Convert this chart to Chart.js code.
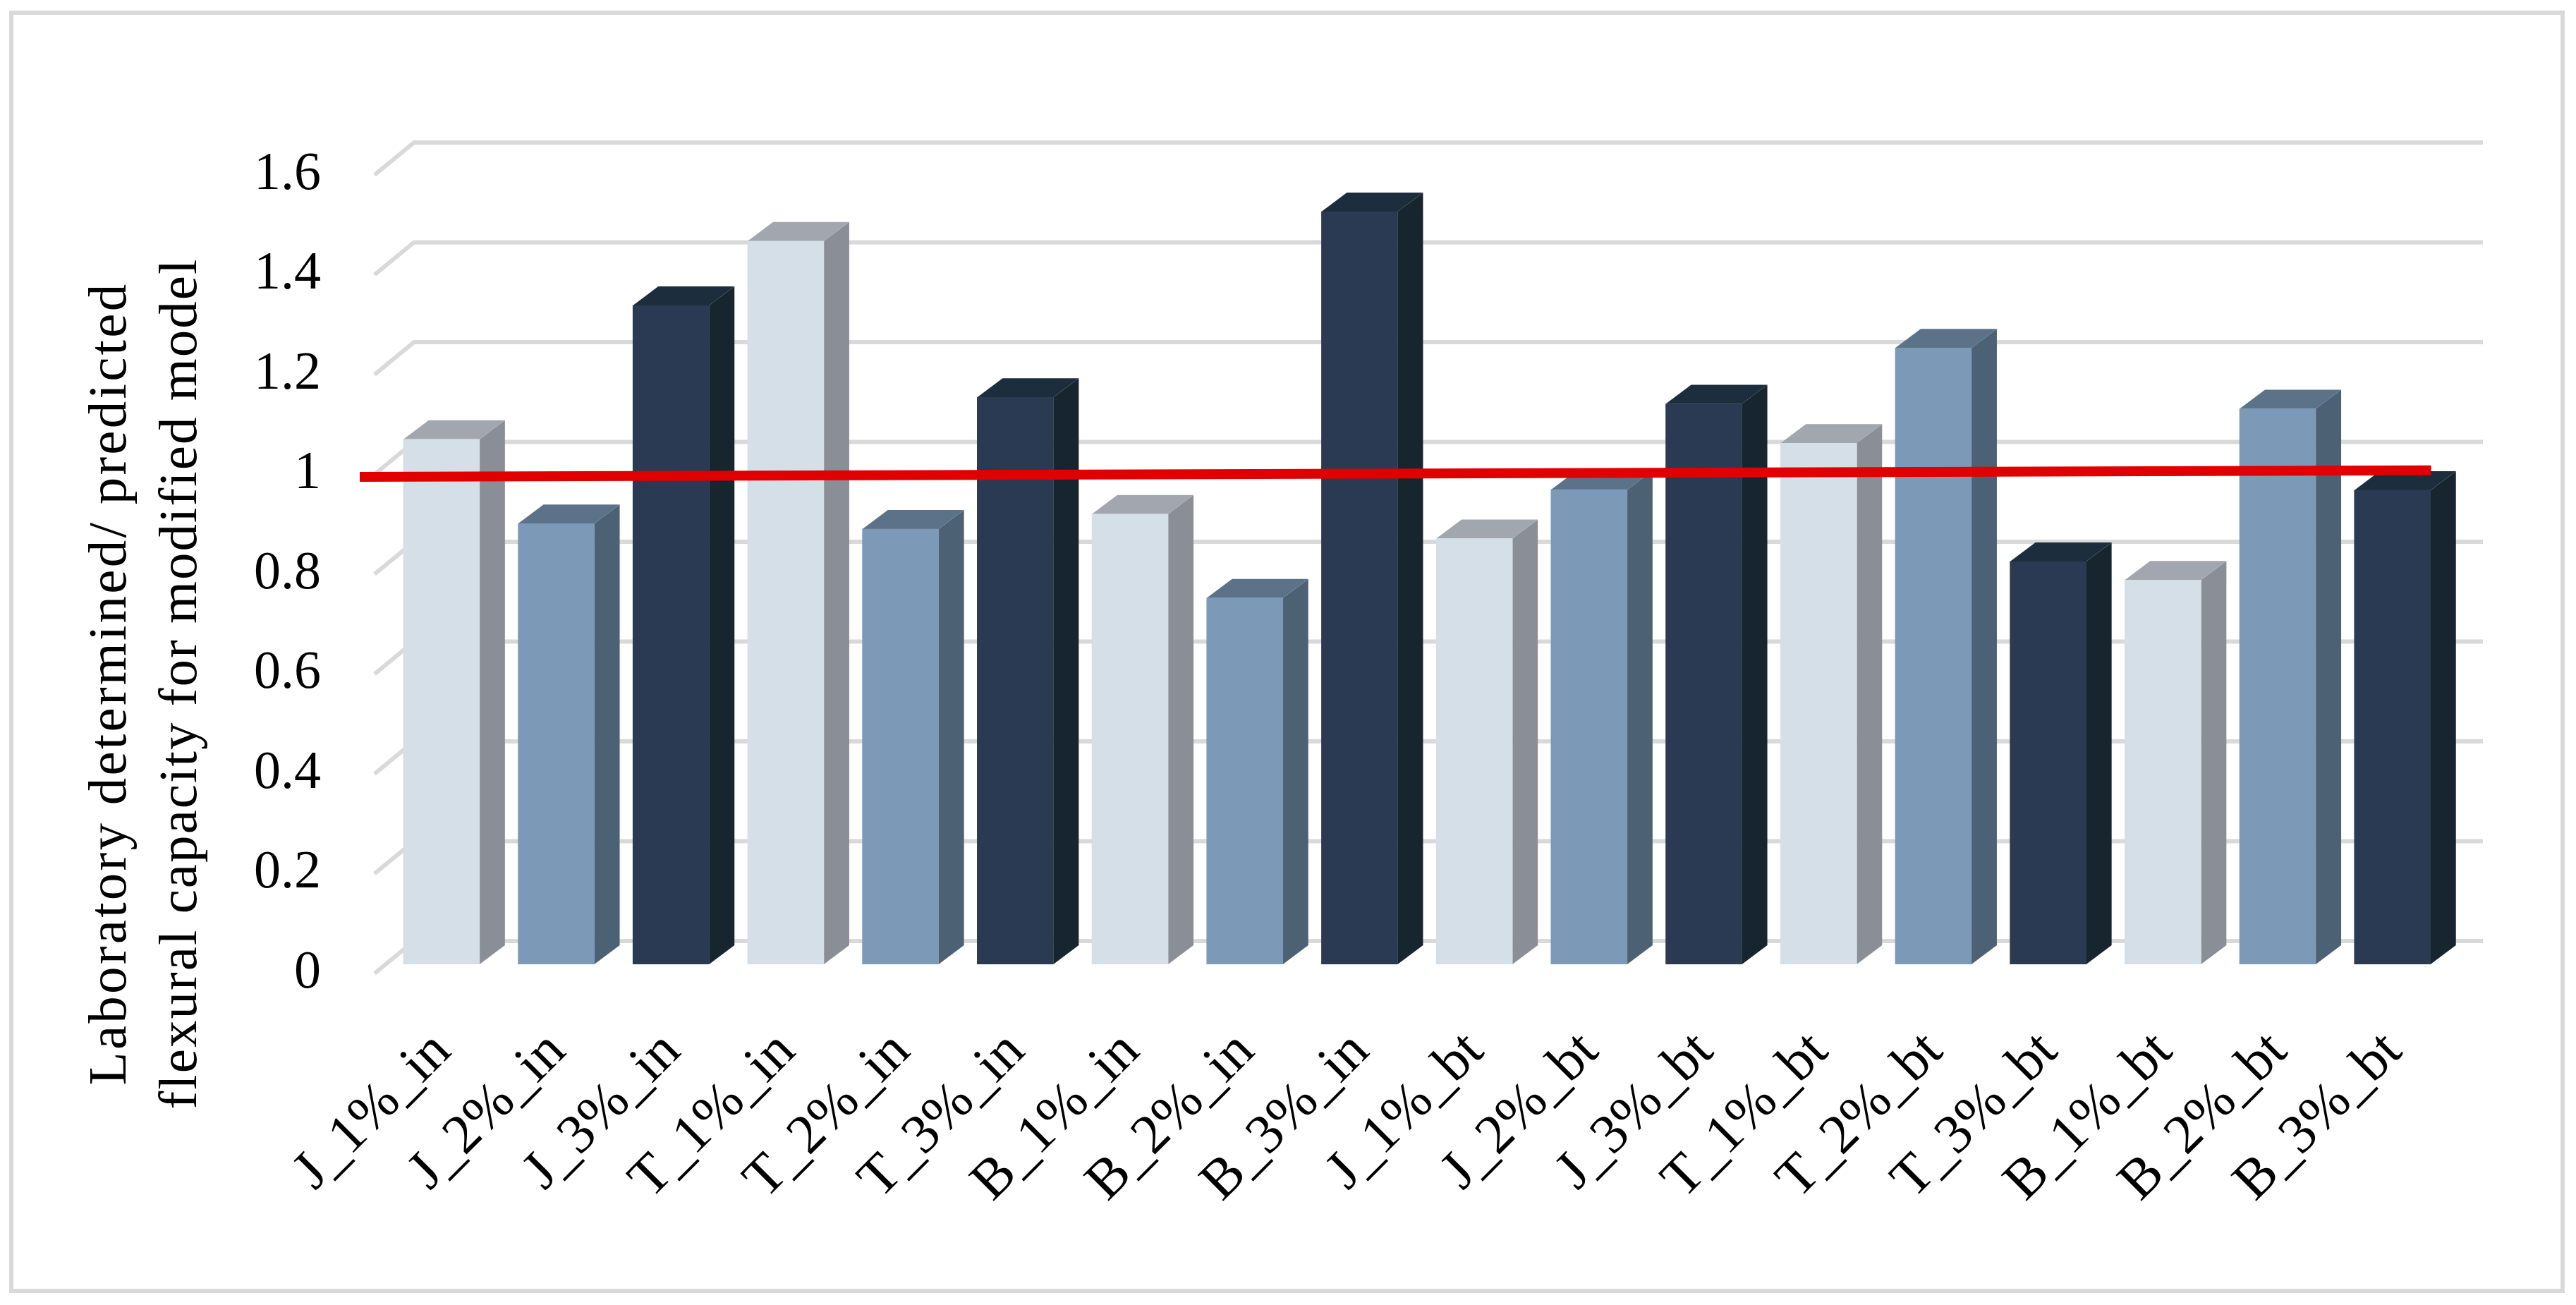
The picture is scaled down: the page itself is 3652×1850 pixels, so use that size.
<!DOCTYPE html>
<html><head><meta charset="utf-8">
<style>html,body{margin:0;padding:0;background:#fff}canvas{display:block}</style>
<script src="https://cdn.jsdelivr.net/npm/chart.js@4"></script>
</head><body><canvas id="c" width="3652" height="1850"></canvas>
<script>
const categories = ['J_1%_in','J_2%_in','J_3%_in','T_1%_in','T_2%_in','T_3%_in','B_1%_in','B_2%_in','B_3%_in','J_1%_bt','J_2%_bt','J_3%_bt','T_1%_bt','T_2%_bt','T_3%_bt','B_1%_bt','B_2%_bt','B_3%_bt'];
const ratioValues = [1.052,0.883,1.32,1.449,0.872,1.136,0.902,0.734,1.508,0.853,0.951,1.123,1.044,1.235,0.807,0.770,1.113,0.950];
const refLineX = [-0.629,17.42];
const refLineY = [0.995,1.008];
const titleLines = ['Laboratory determined/ predicted','flexural capacity for modified model'];
const frontColors = ['#d5dfe8','#7c9ab7','#2a3a52'];
const sideColors = ['#8a8e96','#4d6174','#17252f'];
const topColors = ['#a2a6ae','#5c7288','#1c2e3d'];
const FONT = '"Liberation Serif", serif';
const W=3652,H=1850;
const DROP=6;
const BAR_SHIFT={x:13.5,y:-7-DROP}, DEPTH={x:36,y:-27}, FLOOR={x:56,y:-46}, GRID_RIGHT=3520;

const look3d={
  id:'look3d',
  beforeDraw(ch){
    const c=ch.ctx;c.save();c.fillStyle='#fff';c.fillRect(0,0,W,H);
    c.strokeStyle='#d9d9d9';c.lineWidth=6;c.strokeRect(16,18,3617,1812);c.restore();
  },
  beforeDatasetsDraw(ch){
    const c=ch.ctx,s=ch.scales.y,l=ch.chartArea.left;
    c.save();c.strokeStyle='#d9d9d9';c.lineWidth=6;c.lineJoin='miter';
    s.ticks.forEach(t=>{
      const y=s.getPixelForValue(t.value);
      c.beginPath();c.moveTo(l,y);c.lineTo(l+FLOOR.x,y+FLOOR.y);c.lineTo(GRID_RIGHT,y+FLOOR.y);c.stroke();
    });
    c.restore();
    c.save();c.fillStyle='#000';c.font='77px '+FONT;c.textAlign='center';c.textBaseline='alphabetic';
    [[178,969,'3.25px'],[278,969,'2.05px']].forEach((p,i)=>{c.save();c.translate(p[0],p[1]);c.rotate(-Math.PI/2);c.letterSpacing=p[2];c.fillText(titleLines[i],0,0);c.restore();});
    c.restore();
  },
  beforeDatasetDraw(ch,a){
    if(ch.data.datasets[a.index].type!=='bar')return;
    const c=ch.ctx;c.save();c.translate(BAR_SHIFT.x,BAR_SHIFT.y);
    ch.getDatasetMeta(a.index).data.forEach((b,i)=>{
      const p=b.getProps(['x','y','base','width'],true);
      const L=p.x-p.width/2,R=p.x+p.width/2,T=p.y,B=p.base,k=i%3;
      c.fillStyle=sideColors[k];c.beginPath();c.moveTo(R,T);c.lineTo(R+DEPTH.x,T+DEPTH.y);c.lineTo(R+DEPTH.x,B+DEPTH.y);c.lineTo(R,B);c.closePath();c.fill();
      c.fillStyle=topColors[k];c.beginPath();c.moveTo(L,T);c.lineTo(L+DEPTH.x,T+DEPTH.y);c.lineTo(R+DEPTH.x,T+DEPTH.y);c.lineTo(R,T);c.closePath();c.fill();
    });
  },
  afterDatasetDraw(ch,a){
    if(ch.data.datasets[a.index].type==='bar')ch.ctx.restore();
  }
};

new Chart(document.getElementById('c'),{
  data:{
    labels:categories,
    datasets:[
      {type:'line',order:0,xAxisID:'xl',yAxisID:'y',data:refLineX.map((x,i)=>({x,y:refLineY[i]})),borderColor:'#e00000',borderWidth:14,pointRadius:0,clip:false,borderCapStyle:'butt',tension:0},
      {type:'bar',order:1,xAxisID:'x',yAxisID:'y',data:ratioValues,backgroundColor:categories.map((_,i)=>frontColors[i%3]),borderWidth:0,grouped:false,barThickness:108}
    ]
  },
  plugins:[look3d],
  options:{
    responsive:false,animation:false,devicePixelRatio:1,
    layout:{padding:{top:242+DROP,right:192.4,left:0,bottom:0}},
    plugins:{legend:{display:false},tooltip:{enabled:false},title:{display:false}},
    scales:{
      x:{type:'category',grid:{display:false,drawTicks:false},border:{display:false},
        ticks:{color:'#000',font:{family:FONT,size:79},minRotation:45,maxRotation:45,padding:65,labelOffset:15,autoSkip:false},
        afterFit(s){s.height=H-1374-DROP;}},
      xl:{type:'linear',display:false,min:-0.5,max:17.5},
      y:{type:'linear',min:0,max:1.6,grid:{display:false,drawTicks:false},border:{display:false},
        ticks:{color:'#000',font:{family:FONT,size:76},stepSize:0.2,padding:76,callback:v=>String(Math.round(v*10)/10)},
        afterFit(s){s.width=531;}}
    }
  }
});
</script></body></html>
